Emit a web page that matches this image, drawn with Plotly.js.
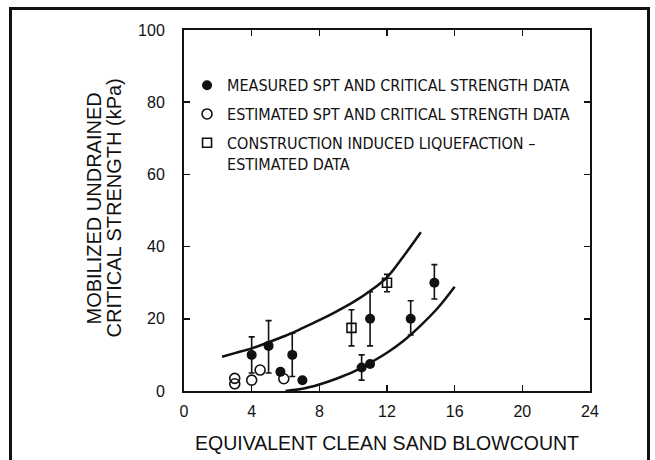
<!DOCTYPE html>
<html><head><meta charset="utf-8">
<script src="https://cdn.plot.ly/plotly-3.0.1.min.js"></script>
<style>
html,body{margin:0;padding:0;background:#fff;}
#chart{position:absolute;left:0;top:0;width:655px;height:460px;}
#frame{position:absolute;left:9px;top:7px;width:635px;height:470px;border:3px solid #111;pointer-events:none;}
</style>
</head><body>
<div id="chart"></div><div id="frame"></div>
<script>
// Measured SPT and critical strength data (filled circles)
const measuredX = [4, 5, 5.7, 6.4, 7, 10.5, 11, 11, 13.4, 14.8];
const measuredY = [10, 12.5, 5.3, 10, 3, 6.5, 7.5, 20, 20, 30];
const measuredErrPlus = [5, 7, 0, 6, 0, 3.5, 0, 7.5, 5, 5];
const measuredErrMinus = [5, 7.5, 0, 6, 0, 3.5, 0, 7.5, 4.5, 4.5];
// Estimated SPT and critical strength data (open circles)
const estimatedX = [3, 3, 4, 4.5, 5.9];
const estimatedY = [3.5, 2, 3, 5.8, 3.4];
// Construction induced liquefaction - estimated data (open squares)
const constructionX = [9.9, 12];
const constructionY = [17.5, 30];
const constructionErrPlus = [5, 2.3];
const constructionErrMinus = [5, 2.5];
// Bounding curves
const upperX = [2.25, 3, 4, 5, 6, 7, 8, 9, 10, 11, 12, 13, 14];
const upperY = [9.5, 10.5, 11.8, 13.5, 15.3, 17.4, 19.6, 22, 24.6, 27.7, 31.5, 37.5, 44];
const lowerX = [6, 7, 8, 9, 10, 11, 12, 13, 14, 15, 16];
const lowerY = [0, 0.6, 1.8, 3.4, 5.3, 7.8, 10.6, 14, 18.2, 23, 28.9];
const xTicks = [0, 4, 8, 12, 16, 20, 24];
const yTicks = [0, 20, 40, 60, 80, 100];
const yTitleLines = ['MOBILIZED UNDRAINED', 'CRITICAL STRENGTH (kPa)'];
const xTitle = 'EQUIVALENT CLEAN SAND BLOWCOUNT';

const INK = '#111';
const legendFont = "'Liberation Sans Narrow', 'DejaVu Sans Condensed', 'Arial Narrow', sans-serif";
const mainFont = "'Liberation Sans', Arial, Helvetica, sans-serif";

const traces = [
  {x: upperX, y: upperY, mode: 'lines', line: {color: INK, width: 2.5, shape: 'spline'}, showlegend: false, hoverinfo: 'skip'},
  {x: lowerX, y: lowerY, mode: 'lines', line: {color: INK, width: 2.5, shape: 'spline'}, showlegend: false, hoverinfo: 'skip'},
  {x: measuredX, y: measuredY, mode: 'markers', name: 'MEASURED SPT AND CRITICAL STRENGTH DATA', legendgroup: 'a',
   marker: {symbol: 'circle', size: 10, color: INK},
   error_y: {type: 'data', symmetric: false, array: measuredErrPlus, arrayminus: measuredErrMinus, color: INK, thickness: 1.6, width: 3}},
  {x: estimatedX, y: estimatedY, mode: 'markers', name: 'ESTIMATED SPT AND CRITICAL STRENGTH DATA', legendgroup: 'b',
   marker: {symbol: 'circle-open', size: 10, color: INK, line: {width: 1.6, color: INK}}},
  {x: constructionX, y: constructionY, mode: 'markers', name: 'CONSTRUCTION INDUCED LIQUEFACTION –<br>ESTIMATED DATA', legendgroup: 'c',
   marker: {symbol: 'square-open', size: 9, color: INK, line: {width: 1.6, color: INK}},
   error_y: {type: 'data', symmetric: false, array: constructionErrPlus, arrayminus: constructionErrMinus, color: INK, thickness: 1.6, width: 3}}
];

const layout = {
  width: 655, height: 460,
  margin: {l: 184, r: 65, t: 30, b: 69, pad: 0},
  paper_bgcolor: '#fff', plot_bgcolor: '#fff',
  font: {family: mainFont, color: INK},
  showlegend: true,
  legend: {x: 0.0075, y: 0.894, xanchor: 'left', yanchor: 'top', bgcolor: 'rgba(0,0,0,0)',
           font: {family: legendFont, size: 16, color: INK}, traceorder: 'grouped', tracegroupgap: 5, valign: 'top', itemwidth: 30},
  xaxis: {range: [0, 24], tickvals: xTicks, ticktext: xTicks.map(String), ticks: 'inside', ticklen: 6, tickwidth: 1.5, tickcolor: INK,
          showline: true, linecolor: INK, linewidth: 2, mirror: 'ticks', showgrid: false, zeroline: false,
          tickfont: {size: 16, family: mainFont}, ticklabelstandoff: 5,
          title: {text: xTitle, font: {size: 19.5, family: mainFont}, standoff: 17}},
  yaxis: {range: [0, 100], tickvals: yTicks, ticktext: yTicks.map(String), ticks: 'inside', ticklen: 6, tickwidth: 1.5, tickcolor: INK,
          showline: true, linecolor: INK, linewidth: 2, mirror: 'ticks', showgrid: false, zeroline: false,
          tickfont: {size: 16, family: mainFont}, ticklabelstandoff: 14},
  annotations: [
    {text: yTitleLines[0], xref: 'paper', yref: 'paper', x: 0, y: 0.5, xshift: -91, yshift: 2, textangle: -90,
     showarrow: false, xanchor: 'center', yanchor: 'middle', font: {size: 20, family: mainFont, color: INK}},
    {text: yTitleLines[1], xref: 'paper', yref: 'paper', x: 0, y: 0.5, xshift: -71, yshift: 2, textangle: -90,
     showarrow: false, xanchor: 'center', yanchor: 'middle', font: {size: 20, family: mainFont, color: INK}}
  ]
};

Plotly.newPlot('chart', traces, layout, {staticPlot: true, displayModeBar: false});
</script>
</body></html>
